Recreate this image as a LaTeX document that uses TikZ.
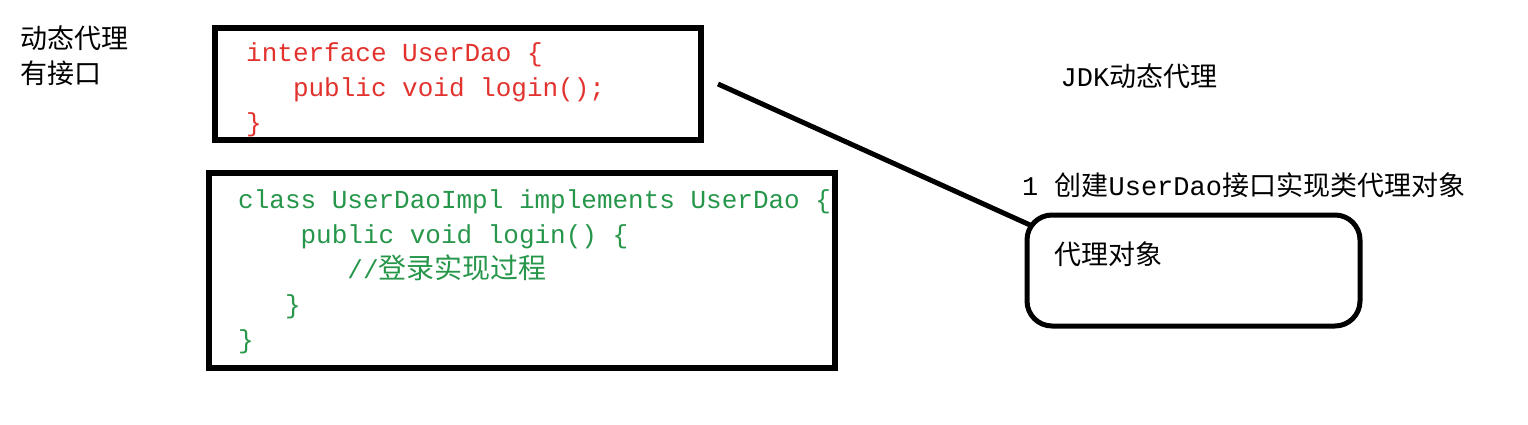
\documentclass[tikz,border=0pt]{standalone}
\usepackage{fontspec}
\setmainfont{Noto Sans CJK SC}
\newfontfamily\codefont{Liberation Mono}
\newfontfamily\cjk{Noto Sans CJK SC}
\usetikzlibrary{positioning}
\definecolor{ifacered}{RGB}{226,50,46}
\definecolor{implgreen}{RGB}{38,150,74}
\tikzset{
  frame/.style={draw,line width=6pt,inner sep=0pt},
  proxybox/.style={draw,line width=5pt,rounded corners=25pt,minimum width=333pt,minimum height=111pt},
  code/.style={font=\codefont\fontsize{26}{35}\selectfont,align=left,anchor=north west,inner sep=0pt},
  note/.style={font=\fontsize{27}{35}\selectfont,inner sep=0pt},
  link/.style={line width=5pt}
}

\begin{document}
\begin{tikzpicture}[x=1pt,y=-1pt]
        \useasboundingbox (0,0) rectangle (1528,425);
        \node[note,align=left,anchor=north west] (title) at (20,26) {动态代理\\有接口};
        \node[frame,minimum width=486pt,minimum height=112pt] (iface_box) at (458,84) {};
        \node[frame,minimum width=626pt,minimum height=195pt] (impl_box) at (522,270.5) {};
        \node[code,text=ifacered] (iface) at (246,42)
        {interface UserDao \{\\\hspace*{1.8em}public void login();\\\}};
        \node[code,text=implgreen] (impl) at (238,189)
        {class UserDaoImpl implements UserDao \{\\
         \hspace*{2.4em}public void login() \{\\
         \hspace*{4.2em}//{\cjk\fontsize{28}{35}\selectfont 登录实现过程}\\
         \hspace*{1.8em}\}\\
         \}};
        \node[note] (jdk) at (1139,76) {{\codefont JDK}动态代理};
        \node[proxybox] (proxy) at (1193.5,270.5) {};
        \node[note,anchor=north west] (proxy_lbl) [below right=29pt and 30pt of proxy.north west] {代理对象};
        \node[note,anchor=west] (step_1) at (1022,185)
        {{\codefont 1 }创建{\codefont UserDao}接口实现类代理对象};
        \coordinate (grip) at (718,84);
        \coordinate (tip) at (1030,225);
        \draw[link] (grip) -- (tip);
    \end{tikzpicture}
\end{document}
